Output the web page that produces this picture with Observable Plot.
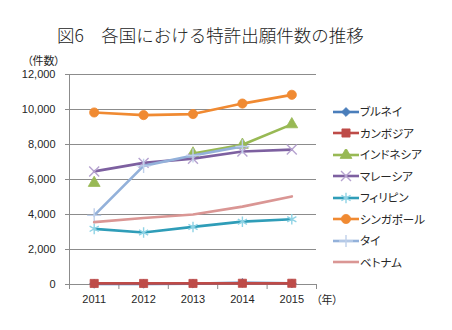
<!DOCTYPE html>
<html><head><meta charset="utf-8">
<script src="https://cdn.jsdelivr.net/npm/d3@7"></script>
<script src="https://cdn.jsdelivr.net/npm/@observablehq/plot@0.6"></script>
<style>
body{margin:0;background:#fff;}
#wrap{position:relative;width:452px;height:330px;overflow:hidden;font-family:"Noto Sans CJK JP",sans-serif;color:#262626;}
#wrap svg.plot{position:absolute;left:0;top:0;}
.abs{position:absolute;white-space:nowrap;line-height:1;}
#title{left:57px;top:26px;font-size:17.5px;color:#1a1a1a;font-weight:300;}
#ylab{left:27px;top:55px;font-size:11px;font-feature-settings:"palt";}
#xlab{left:316px;top:294px;font-size:11px;font-feature-settings:"palt";}
#legend{left:333px;top:101px;}
.lg{display:flex;align-items:center;height:21.5px;font-size:11.5px;font-feature-settings:"palt";}
.lg svg{margin-right:1px;}
</style></head><body><div id="wrap"></div><script>
const years = [2011, 2012, 2013, 2014, 2015];
const yTicks = [0, 2000, 4000, 6000, 8000, 10000, 12000];
const names = ["ブルネイ", "カンボジア", "インドネシア", "マレーシア", "フィリピン", "シンガポール", "タイ", "ベトナム"];
const brunei    = [40, 40, 50, 90, 60];
const cambodia  = [60, 60, 60, 70, 70];
const indonesia = [5800, null, 7480, 7980, 9150];
const malaysia  = [6460, 6950, 7190, 7600, 7710];
const philippines = [3180, 2970, 3290, 3590, 3730];
const singapore = [9830, 9680, 9740, 10340, 10840];
const thailand  = [3950, 6780, 7370, 7890, null];
const vietnam   = [3560, 3800, 4000, 4450, 5030];
const lineColors   = ["#4A7EBB", "#BE4B48", "#98B954", "#7D60A0", "#2F9DB8", "#F08A32", "#93B1DA", "#DA9694"];
const markerColors = ["#4A7EBB", "#BE4B48", "#98B954", "#B6A3D0", "#8FD3E5", "#F08A32", "#BFD0EA", "#DA9694"];
const symbols = ["diamond2", "square", "triangle", "times", "asterisk", "circle", "plus", null];
const filled  = [true, true, true, false, false, true, false, false];
const markerR = [4, 4.6, 4.4, 4.6, 5, 4.6, 4.6, 0];
const allSeries = [brunei, cambodia, indonesia, malaysia, philippines, singapore, thailand, vietnam];

const bounds = [years[0] - 0.5, ...years.map(y => y + 0.5)];
const marks = [
  Plot.gridY(yTicks, {stroke: "#8c8c8c", strokeOpacity: 1, strokeWidth: 1}),
  Plot.ruleX([bounds[0]], {stroke: "#8c8c8c"}),
  Plot.ruleY([0], {stroke: "#8c8c8c"}),
  Plot.axisY(yTicks, {tickFormat: d3.format(","), tickSize: 4, tickPadding: 10, stroke: "#8c8c8c", fill: "#262626", fontSize: 11, fontFamily: "Liberation Sans, Arial, sans-serif", label: null}),
  Plot.axisX(years, {tickFormat: d => String(d), tickSize: 0, tickPadding: 11, fill: "#262626", fontSize: 11, fontFamily: "Liberation Sans, Arial, sans-serif", label: null}),
  Plot.axisX(bounds, {tickFormat: () => "", tickSize: 5, stroke: "#8c8c8c", label: null})
];
allSeries.forEach((vals, i) => {
  const rows = years.map((y, j) => ({year: y, value: vals[j]}));
  marks.push(Plot.line(rows, {x: "year", y: "value", stroke: lineColors[i], strokeWidth: 2.7, curve: "linear"}));
  if (symbols[i]) {
    const pts = rows.filter(d => d.value != null);
    marks.push(Plot.dot(pts, filled[i]
      ? {x: "year", y: "value", symbol: () => symbols[i], r: markerR[i], fill: markerColors[i], stroke: lineColors[i], strokeWidth: 0.8}
      : {x: "year", y: "value", symbol: () => symbols[i], r: markerR[i], stroke: markerColors[i], strokeWidth: 1.4, fill: "none"}));
  }
});

const chart = Plot.plot({
  width: 452, height: 330,
  marginLeft: 69, marginRight: 136, marginTop: 74, marginBottom: 46,
  x: {type: "linear", domain: [bounds[0], bounds[bounds.length - 1]], axis: null},
  y: {domain: [0, 12000], axis: null},
  symbol: {type: "identity"},
  style: {background: "transparent"},
  marks
});
const wrap = document.getElementById("wrap");
wrap.appendChild(chart);

const title = document.createElement("div");
title.className = "abs"; title.id = "title";
title.textContent = "図6　各国における特許出願件数の推移";
wrap.appendChild(title);
const ylab = document.createElement("div");
ylab.className = "abs"; ylab.id = "ylab"; ylab.textContent = "（件数）";
wrap.appendChild(ylab);
const xlab = document.createElement("div");
xlab.className = "abs"; xlab.id = "xlab"; xlab.textContent = "（年）";
wrap.appendChild(xlab);

const legend = document.createElement("div");
legend.className = "abs"; legend.id = "legend";
names.forEach((n, i) => {
  const row = document.createElement("div");
  row.className = "lg";
  const s = d3.create("svg").attr("width", 26).attr("height", 12);
  s.append("line").attr("x1", 0).attr("x2", 26).attr("y1", 6).attr("y2", 6)
    .attr("stroke", lineColors[i]).attr("stroke-width", 2.6);
  if (symbols[i]) {
    const symMap = {diamond2: d3.symbolDiamond2, square: d3.symbolSquare, triangle: d3.symbolTriangle, times: d3.symbolTimes, asterisk: d3.symbolAsterisk, circle: d3.symbolCircle, plus: d3.symbolPlus};
    const p = s.append("path").attr("transform", "translate(13,6)")
      .attr("d", d3.symbol(symMap[symbols[i]], Math.PI * markerR[i] * markerR[i])());
    if (filled[i]) p.attr("fill", markerColors[i]).attr("stroke", lineColors[i]).attr("stroke-width", 0.8);
    else p.attr("fill", "none").attr("stroke", markerColors[i]).attr("stroke-width", 1.4);
  }
  row.appendChild(s.node());
  const t = document.createElement("span");
  t.textContent = n;
  row.appendChild(t);
  legend.appendChild(row);
});
wrap.appendChild(legend);
</script></body></html>
